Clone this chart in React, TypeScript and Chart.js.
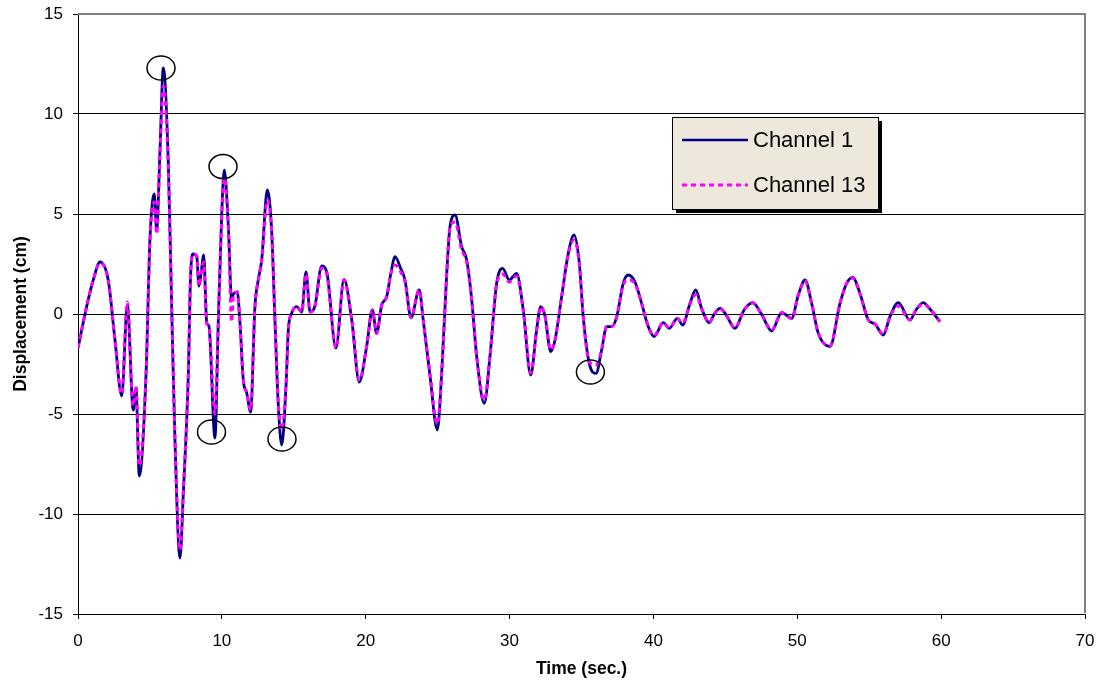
import React, { useEffect, useRef } from "react";
import { Chart, registerables } from "chart.js";

Chart.register(...registerables);

// Time (sec.)
const time = [
  0.0, 0.6, 1.06, 1.53, 2.1, 2.57, 3.04, 3.43, 3.84, 4.03, 4.26, 4.73, 5.0, 5.3, 5.47, 5.7, 5.93, 6.28, 6.51, 6.74,
  7.09, 7.32, 7.67, 7.83, 8.01, 8.25, 8.41, 8.55, 8.74, 8.95, 9.1, 9.52, 9.75, 9.99, 10.17, 10.45, 10.68, 10.8, 11.07, 11.26,
  11.49, 11.73, 12.0, 12.3, 12.53, 12.77, 13.16, 13.46, 13.69, 13.92, 14.16, 14.46, 14.62, 14.85, 15.2, 15.55, 15.85, 16.13, 16.47, 16.94,
  17.29, 17.93, 18.49, 19.03, 19.55, 20.07, 20.46, 20.76, 21.11, 21.46, 21.74, 22.04, 22.43, 22.73, 23.15, 23.72, 24.0, 24.47, 24.98, 25.28,
  25.63, 25.86, 26.21, 26.67, 27.02, 27.37, 27.71, 28.24, 28.64, 29.1, 29.52, 29.98, 30.49, 30.95, 31.47, 31.88, 32.16, 32.46, 32.86, 33.16,
  33.62, 34.08, 34.48, 34.85, 35.12, 35.54, 36.01, 36.4, 36.75, 37.1, 37.45, 37.9, 38.25, 38.72, 39.18, 39.64, 40.04, 40.69, 41.1, 41.66,
  42.03, 42.54, 42.94, 43.35, 43.88, 44.21, 44.63, 45.04, 45.67, 46.3, 46.9, 47.53, 48.22, 48.92, 49.61, 50.07, 50.54, 51.0, 51.46, 52.27,
  52.97, 53.43, 53.85, 54.36, 54.94, 55.4, 55.98, 56.44, 57.02, 57.83, 58.25, 58.76, 59.22, 59.92,
];

// Channel 1 displacement (cm)
const channel1 = [
  -1.7, 0.37, 1.7, 2.6, 1.7, -1.3, -4.1, 0.45, -4.8, -3.7, -8.1, -3.0, 3.7, 6.0, 4.2, 8.2, 12.3, 7.5, 0.4, -6.3,
  -12.2, -9.0, -3.0, 2.0, 3.0, 2.9, 1.4, 2.0, 2.95, -0.45, -0.6, -6.2, -0.45, 5.0, 7.2, 4.4, 0.7, 1.0, 1.1, -0.45,
  -3.3, -3.95, -4.9, 0.37, 1.7, 2.7, 6.2, 4.2, -0.3, -4.5, -6.55, -3.6, -0.8, 0.03, 0.37, 0.1, 2.1, 0.1, 0.4, 2.4,
  2.1, -1.7, 1.73, -0.3, -3.4, -1.6, 0.2, -0.97, 0.45, 0.87, 2.0, 2.87, 2.28, 1.7, -0.18, 1.2, -0.3, -3.1, -5.8, -2.97,
  2.0, 4.37, 4.95, 3.37, 2.7, 0.7, -2.1, -4.47, -2.1, 1.53, 2.28, 1.7, 2.03, 0.2, -3.05, -0.8, 0.37, -0.1, -1.88, -1.3,
  0.87, 3.03, 3.95, 2.53, -0.13, -2.47, -2.97, -1.8, -0.63, -0.63, -0.13, 1.53, 1.95, 1.6, 0.53, -0.63, -1.13, -0.43, -0.72, -0.22,
  -0.55, 0.53, 1.2, 0.28, -0.43, -0.03, 0.28, -0.03, -0.72, 0.2, 0.57, -0.03, -0.85, 0.07, -0.22, 0.95, 1.7, 0.53, -0.97, -1.63,
  0.53, 1.53, 1.83, 1.03, -0.3, -0.5, -1.05, -0.13, 0.57, -0.3, 0.2, 0.57, 0.25, -0.38,
];

// Channel 13 displacement (cm)
const channel13 = [
  -1.7, 0.37, 1.7, 2.55, 1.7, -1.3, -4.0, 0.6, -4.6, -3.6, -7.6, -3.0, 3.6, 5.6, 4.0, 8.0, 11.4, 7.3, 0.4, -6.2,
  -11.8, -8.8, -3.0, 2.0, 3.0, 2.9, 1.4, 2.0, 2.6, -0.45, -0.6, -5.0, -0.45, 4.8, 6.8, 4.3, -0.4, 0.9, 1.1, -0.45,
  -3.3, -3.9, -4.8, 0.37, 1.7, 2.7, 5.7, 4.1, -0.3, -4.4, -5.8, -3.5, -0.8, 0.03, 0.37, 0.1, 2.0, 0.1, 0.4, 2.3,
  2.0, -1.7, 1.7, -0.3, -3.3, -1.6, 0.2, -0.97, 0.45, 0.87, 2.0, 2.45, 2.1, 1.6, -0.18, 1.2, -0.3, -3.0, -5.5, -2.97,
  2.0, 4.4, 4.6, 3.2, 2.6, 0.7, -2.1, -4.3, -2.1, 1.5, 2.0, 1.6, 1.9, 0.2, -2.95, -0.8, 0.37, -0.1, -1.8, -1.3,
  0.87, 3.0, 3.7, 2.5, -0.13, -2.4, -2.55, -1.8, -0.63, -0.63, -0.13, 1.45, 1.7, 1.5, 0.53, -0.63, -1.08, -0.43, -0.7, -0.22,
  -0.45, 0.5, 0.97, 0.28, -0.43, -0.03, 0.28, -0.03, -0.68, 0.2, 0.55, -0.03, -0.8, 0.07, -0.22, 0.95, 1.65, 0.53, -0.95, -1.6,
  0.53, 1.53, 1.8, 1.0, -0.3, -0.5, -1.0, -0.13, 0.4, -0.3, 0.2, 0.5, 0.25, -0.38,
];

// Highlighted peaks (circled in the reference)
const circleTimes = [5.77, 10.08, 9.28, 14.18, 35.62];
const circleValues = [12.3, 7.37, -5.9, -6.25, -2.9];

const seriesNames = ["Channel 1", "Channel 13"];
const seriesColors = ["#000080", "#FF00FF"];

const FONT = '"Liberation Sans", Arial, Helvetica, sans-serif';

const legendPlugin = {
  id: "boxLegend",
  afterDraw(chart: any) {
    const ctx = chart.ctx;
    const x = 672, y = 117, w = 206, h = 92;
    ctx.save();
    ctx.fillStyle = "#000";
    ctx.fillRect(x + 4, y + 4, w, h);
    ctx.fillStyle = "#EEE8DC";
    ctx.fillRect(x, y, w, h);
    ctx.strokeStyle = "#000";
    ctx.lineWidth = 1;
    ctx.strokeRect(x + 0.5, y + 0.5, w, h);
    const rows = [140, 185];
    rows.forEach((ry, i) => {
      ctx.beginPath();
      ctx.strokeStyle = seriesColors[i];
      ctx.lineWidth = i === 0 ? 2.5 : 3;
      ctx.setLineDash(i === 0 ? [] : [5, 4]);
      ctx.moveTo(682, ry);
      ctx.lineTo(748, ry);
      ctx.stroke();
      ctx.setLineDash([]);
      ctx.fillStyle = "#000";
      ctx.font = `22px ${FONT}`;
      ctx.textBaseline = "middle";
      ctx.textAlign = "left";
      ctx.fillText(seriesNames[i], 753, ry + 1);
    });
    ctx.restore();
  },
};

const framePlugin = {
  id: "frame",
  afterDraw(chart: any) {
    const { ctx, chartArea } = chart;
    ctx.save();
    ctx.strokeStyle = "#808080";
    ctx.lineWidth = 2;
    ctx.beginPath();
    ctx.moveTo(chartArea.left, chartArea.top);
    ctx.lineTo(chartArea.right, chartArea.top);
    ctx.lineTo(chartArea.right, chartArea.bottom - 1);
    ctx.stroke();
    ctx.restore();
  },
};

const circlePlugin = {
  id: "circles",
  afterDatasetsDraw(chart: any) {
    const { ctx, scales } = chart;
    ctx.save();
    ctx.strokeStyle = "#000";
    ctx.lineWidth = 1.5;
    circleTimes.forEach((t, i) => {
      const cx = scales.x.getPixelForValue(t);
      const cy = scales.y.getPixelForValue(circleValues[i]);
      ctx.beginPath();
      ctx.ellipse(cx, cy, 14, 12, 0, 0, Math.PI * 2);
      ctx.stroke();
    });
    ctx.restore();
  },
};

export default function App() {
  const canvasRef = useRef<HTMLCanvasElement | null>(null);

  useEffect(() => {
    if (!canvasRef.current) return;
    const mk = (vals: number[]) => time.map((t, i) => ({ x: t, y: vals[i] }));
    const chart = new Chart(canvasRef.current, {
      type: "line",
      data: {
        datasets: [
          {
            label: seriesNames[1],
            data: mk(channel13),
            borderColor: seriesColors[1],
            borderWidth: 3,
            borderDash: [5, 4],
            pointRadius: 0,
            cubicInterpolationMode: "monotone",
            fill: false,
            order: 0,
          },
          {
            label: seriesNames[0],
            data: mk(channel1),
            borderColor: seriesColors[0],
            borderWidth: 2.8,
            pointRadius: 0,
            cubicInterpolationMode: "monotone",
            fill: false,
            order: 1,
          },
        ],
      },
      options: {
        responsive: false,
        animation: false,
        devicePixelRatio: 1,
        layout: { padding: { left: 0, top: 14, right: 14, bottom: 0 } },
        plugins: { legend: { display: false }, tooltip: { enabled: false } },
        scales: {
          x: {
            type: "linear",
            min: 0,
            max: 70,
            afterFit: (s: any) => {
              s.height = 71;
              s.paddingLeft = 0;
              s.paddingRight = 0;
            },
            ticks: {
              stepSize: 10,
              color: "#000",
              padding: 12,
              maxRotation: 0,
              font: { family: FONT, size: 17 },
            },
            grid: { drawOnChartArea: false, drawTicks: true, tickLength: 5, color: "#000" },
            border: { color: "#000", width: 1 },
            title: {
              display: true,
              text: "Time (sec.)",
              color: "#000",
              font: { family: FONT, size: 17.5, weight: "bold" },
              padding: { top: 0, bottom: 5 },
            },
          },
          y: {
            min: -15,
            max: 15,
            afterFit: (s: any) => {
              s.width = 78;
              s.paddingTop = 0;
              s.paddingBottom = 0;
            },
            ticks: {
              stepSize: 5,
              color: "#000",
              padding: 10,
              font: { family: FONT, size: 17 },
            },
            grid: { color: "#000", lineWidth: 1, tickLength: 5, drawTicks: true },
            border: { color: "#000", width: 1 },
            title: {
              display: true,
              text: "Displacement (cm)",
              color: "#000",
              font: { family: FONT, size: 17.5, weight: "bold" },
              padding: { top: 11, bottom: 0 },
            },
          },
        },
      },
      plugins: [circlePlugin, framePlugin, legendPlugin],
    } as any);
    return () => chart.destroy();
  }, []);

  return (
    <div style={{ position: "absolute", left: 0, top: 0, width: 1099, height: 685, background: "#fff" }}>
      <canvas ref={canvasRef} width={1099} height={685} style={{ display: "block" }} />
    </div>
  );
}
